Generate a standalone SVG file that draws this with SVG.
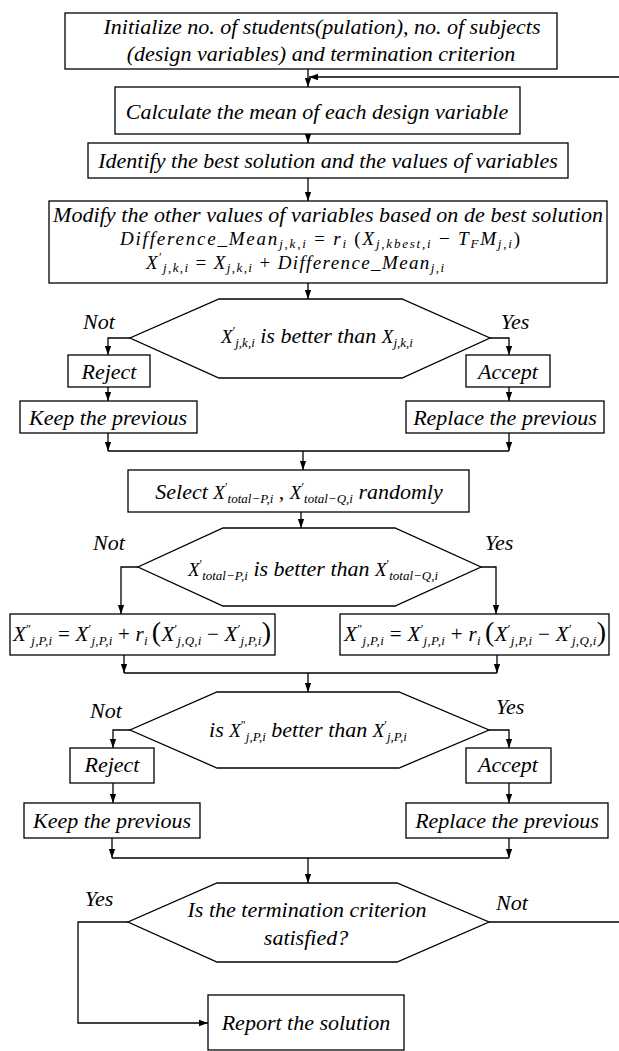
<svg xmlns="http://www.w3.org/2000/svg" width="619" height="1051" viewBox="0 0 619 1051">
<style>
.b{fill:#fff;stroke:#000;stroke-width:1.3}
.c{fill:none;stroke:#000;stroke-width:1.3}
.t{font-family:"Liberation Serif","Times New Roman",serif;font-style:italic;font-size:22px;fill:#000}
.m{font-family:"Liberation Serif","Times New Roman",serif;font-style:italic;font-size:21px;fill:#000}
.f{font-size:19px}
.s{font-size:13px}
.p{font-size:12px;font-style:normal}
.u{font-style:normal}
.bp{font-style:normal;font-size:28px}
.ms{font-family:"Liberation Serif","Times New Roman",serif;font-style:italic;font-size:19px}
</style>
<defs>
<marker id="ah" viewBox="0 0 10 10" refX="10" refY="5" markerWidth="9" markerHeight="9" markerUnits="userSpaceOnUse" orient="auto"><path d="M0,1.5 L10,5 L0,8.5 z" fill="#000"/></marker>
</defs>

<g id="connectors" class="c">
<line x1="308" y1="69" x2="308" y2="87" marker-end="url(#ah)"/>
<line x1="619" y1="77" x2="309" y2="77" marker-end="url(#ah)"/>
<line x1="308" y1="134" x2="308" y2="143" marker-end="url(#ah)"/>
<line x1="308" y1="178" x2="308" y2="201" marker-end="url(#ah)"/>
<line x1="308" y1="283" x2="308" y2="299" marker-end="url(#ah)"/>
<polyline points="130,338 108,338 108,355" marker-end="url(#ah)"/>
<polyline points="490,338 509,338 509,355" marker-end="url(#ah)"/>
<line x1="108" y1="387" x2="108" y2="401" marker-end="url(#ah)"/>
<line x1="509" y1="387" x2="509" y2="401" marker-end="url(#ah)"/>
<line x1="108" y1="433" x2="108" y2="451" marker-end="url(#ah)"/>
<line x1="509" y1="433" x2="509" y2="451" marker-end="url(#ah)"/>
<line x1="108" y1="451" x2="509" y2="451"/>
<line x1="303" y1="451" x2="303" y2="470" marker-end="url(#ah)"/>
<line x1="301" y1="512" x2="301" y2="528" marker-end="url(#ah)"/>
<polyline points="138,567 121,567 121,614" marker-end="url(#ah)"/>
<polyline points="481,567 496,567 496,614" marker-end="url(#ah)"/>
<line x1="124" y1="655" x2="124" y2="673" marker-end="url(#ah)"/>
<line x1="497" y1="655" x2="497" y2="673" marker-end="url(#ah)"/>
<line x1="124" y1="673" x2="497" y2="673"/>
<line x1="308" y1="673" x2="308" y2="692" marker-end="url(#ah)"/>
<polyline points="130,730 113,730 113,748" marker-end="url(#ah)"/>
<polyline points="489,730 509,730 509,748" marker-end="url(#ah)"/>
<line x1="113" y1="783" x2="113" y2="803" marker-end="url(#ah)"/>
<line x1="509" y1="783" x2="509" y2="803" marker-end="url(#ah)"/>
<line x1="112" y1="838" x2="112" y2="858" marker-end="url(#ah)"/>
<line x1="509" y1="838" x2="509" y2="858" marker-end="url(#ah)"/>
<line x1="112" y1="858" x2="509" y2="858"/>
<line x1="308" y1="858" x2="308" y2="883" marker-end="url(#ah)"/>
<polyline points="128,922 78,922 78,1023 208,1023" marker-end="url(#ah)"/>
<line x1="489" y1="922" x2="619" y2="922"/>
</g>

<g id="init">
<rect class="b" x="65" y="13" width="492" height="56"/>
<text class="t" x="322" y="34" text-anchor="middle">Initialize no. of students(pulation), no. of subjects</text>
<text class="t" x="321" y="61" text-anchor="middle">(design variables) and termination criterion</text>
</g>

<g id="mean">
<rect class="b" x="115" y="87" width="405" height="47"/>
<text class="t" x="317" y="119" text-anchor="middle">Calculate the mean of each design variable</text>
</g>

<g id="best">
<rect class="b" x="88" y="143" width="480" height="35"/>
<text class="t" x="328" y="168" text-anchor="middle">Identify the best solution and the values of variables</text>
</g>

<g id="modify">
<rect class="b" x="49" y="201" width="558" height="82"/>
<text class="t" x="328" y="222" text-anchor="middle" textLength="550">Modify the other values of variables based on de best solution</text>
<text class="m f" x="320" y="245" text-anchor="middle" textLength="400">Difference_Mean<tspan class="s" dy="3">j,k,i</tspan><tspan class="u" dy="-3"> = </tspan>r<tspan class="s" dy="3">i</tspan><tspan class="u" dy="-3"> (</tspan>X<tspan class="s" dy="3">j,kbest,i</tspan><tspan class="u" dy="-3"> − </tspan>T<tspan class="s" dy="3">F</tspan><tspan dy="-3">M</tspan><tspan class="s" dy="3">j,i</tspan><tspan class="u" dy="-3">)</tspan></text>
<text class="m f" x="295" y="269" text-anchor="middle" textLength="298">X<tspan class="p" dy="-8">′</tspan><tspan class="s" dy="11">j,k,i</tspan><tspan class="u" dy="-3"> = </tspan>X<tspan class="s" dy="3">j,k,i</tspan><tspan class="u" dy="-3"> + </tspan>Difference_Mean<tspan class="s" dy="3">j,i</tspan></text>
</g>

<g id="decision1">
<polygon class="b" points="219,299 402,299 490,338 402,378 219,378 130,338"/>
<text class="t" x="317" y="343" text-anchor="middle"><tspan class="ms">X</tspan><tspan class="p" dy="-8">′</tspan><tspan class="s" dy="12">j,k,i</tspan><tspan dy="-4">  is better than </tspan><tspan class="ms">X</tspan><tspan class="s" dy="4">j,k,i</tspan></text>
<text class="t" x="99" y="329" text-anchor="middle">Not</text>
<text class="t" x="515" y="329" text-anchor="middle">Yes</text>
</g>

<g id="reject1">
<rect class="b" x="68" y="355" width="82" height="32"/>
<text class="t" x="109" y="379" text-anchor="middle">Reject</text>
</g>
<g id="accept1">
<rect class="b" x="466" y="355" width="84" height="32"/>
<text class="t" x="508" y="379" text-anchor="middle">Accept</text>
</g>
<g id="keep1">
<rect class="b" x="20" y="401" width="177" height="32"/>
<text class="t" x="108" y="425" text-anchor="middle">Keep the previous</text>
</g>
<g id="replace1">
<rect class="b" x="406" y="401" width="198" height="32"/>
<text class="t" x="505" y="425" text-anchor="middle">Replace the previous</text>
</g>

<g id="select">
<rect class="b" x="128" y="470" width="341" height="42"/>
<text class="t" x="299" y="499" text-anchor="middle">Select <tspan class="ms">X</tspan><tspan class="p" dy="-8">′</tspan><tspan class="s" dy="12">total−P,i</tspan><tspan dy="-4">  ,  </tspan><tspan class="ms">X</tspan><tspan class="p" dy="-8">′</tspan><tspan class="s" dy="12">total−Q,i</tspan><tspan dy="-4"> randomly</tspan></text>
</g>

<g id="decision2">
<polygon class="b" points="223,528 395,528 481,567 395,606 223,606 138,567"/>
<text class="t" x="313" y="576" text-anchor="middle"><tspan class="ms">X</tspan><tspan class="p" dy="-8">′</tspan><tspan class="s" dy="12">total−P,i</tspan><tspan dy="-4"> is better than </tspan><tspan class="ms">X</tspan><tspan class="p" dy="-8">′</tspan><tspan class="s" dy="12">total−Q,i</tspan></text>
<text class="t" x="109" y="550" text-anchor="middle">Not</text>
<text class="t" x="499" y="550" text-anchor="middle">Yes</text>
</g>

<g id="updateL">
<rect class="b" x="10" y="614" width="265" height="41"/>
<text class="m" x="142" y="641" text-anchor="middle" textLength="258">X<tspan class="p" dy="-8">″</tspan><tspan class="s" dy="12">j,P,i</tspan><tspan class="u" dy="-4"> = </tspan>X<tspan class="p" dy="-8">′</tspan><tspan class="s" dy="12">j,P,i</tspan><tspan class="u" dy="-4"> + </tspan>r<tspan class="s" dy="4">i</tspan><tspan class="bp" dy="-4" dx="4">(</tspan>X<tspan class="p" dy="-8">′</tspan><tspan class="s" dy="12">j,Q,i</tspan><tspan class="u" dy="-4"> − </tspan>X<tspan class="p" dy="-8">′</tspan><tspan class="s" dy="12">j,P,i</tspan><tspan class="bp" dy="-4">)</tspan></text>
</g>
<g id="updateR">
<rect class="b" x="340" y="614" width="269" height="41"/>
<text class="m" x="475" y="641" text-anchor="middle" textLength="262">X<tspan class="p" dy="-8">″</tspan><tspan class="s" dy="12">j,P,i</tspan><tspan class="u" dy="-4"> = </tspan>X<tspan class="p" dy="-8">′</tspan><tspan class="s" dy="12">j,P,i</tspan><tspan class="u" dy="-4"> + </tspan>r<tspan class="s" dy="4">i</tspan><tspan class="bp" dy="-4" dx="4">(</tspan>X<tspan class="p" dy="-8">′</tspan><tspan class="s" dy="12">j,P,i</tspan><tspan class="u" dy="-4"> − </tspan>X<tspan class="p" dy="-8">′</tspan><tspan class="s" dy="12">j,Q,i</tspan><tspan class="bp" dy="-4">)</tspan></text>
</g>

<g id="decision3">
<polygon class="b" points="217,692 399,692 489,730 399,768 217,768 130,730"/>
<text class="t" x="308" y="737" text-anchor="middle">is <tspan class="ms">X</tspan><tspan class="p" dy="-8">″</tspan><tspan class="s" dy="12">j,P,i</tspan><tspan dy="-4"> better than </tspan><tspan class="ms">X</tspan><tspan class="p" dy="-8">′</tspan><tspan class="s" dy="12">j,P,i</tspan></text>
<text class="t" x="106" y="718" text-anchor="middle">Not</text>
<text class="t" x="510" y="714" text-anchor="middle">Yes</text>
</g>

<g id="reject2">
<rect class="b" x="70" y="748" width="84" height="35"/>
<text class="t" x="112" y="772" text-anchor="middle">Reject</text>
</g>
<g id="accept2">
<rect class="b" x="466" y="748" width="85" height="35"/>
<text class="t" x="508" y="772" text-anchor="middle">Accept</text>
</g>
<g id="keep2">
<rect class="b" x="24" y="803" width="176" height="35"/>
<text class="t" x="112" y="828" text-anchor="middle">Keep the previous</text>
</g>
<g id="replace2">
<rect class="b" x="406" y="803" width="202" height="35"/>
<text class="t" x="507" y="828" text-anchor="middle">Replace the previous</text>
</g>

<g id="decision4">
<polygon class="b" points="217,883 397,883 489,922 397,962 217,962 128,922"/>
<text class="t" x="307" y="917" text-anchor="middle">Is the termination criterion</text>
<text class="t" x="306" y="945" text-anchor="middle">satisfied?</text>
<text class="t" x="99" y="906" text-anchor="middle">Yes</text>
<text class="t" x="512" y="910" text-anchor="middle">Not</text>
</g>

<g id="report">
<rect class="b" x="208" y="995" width="196" height="55"/>
<text class="t" x="306" y="1030" text-anchor="middle">Report the solution</text>
</g>
</svg>
